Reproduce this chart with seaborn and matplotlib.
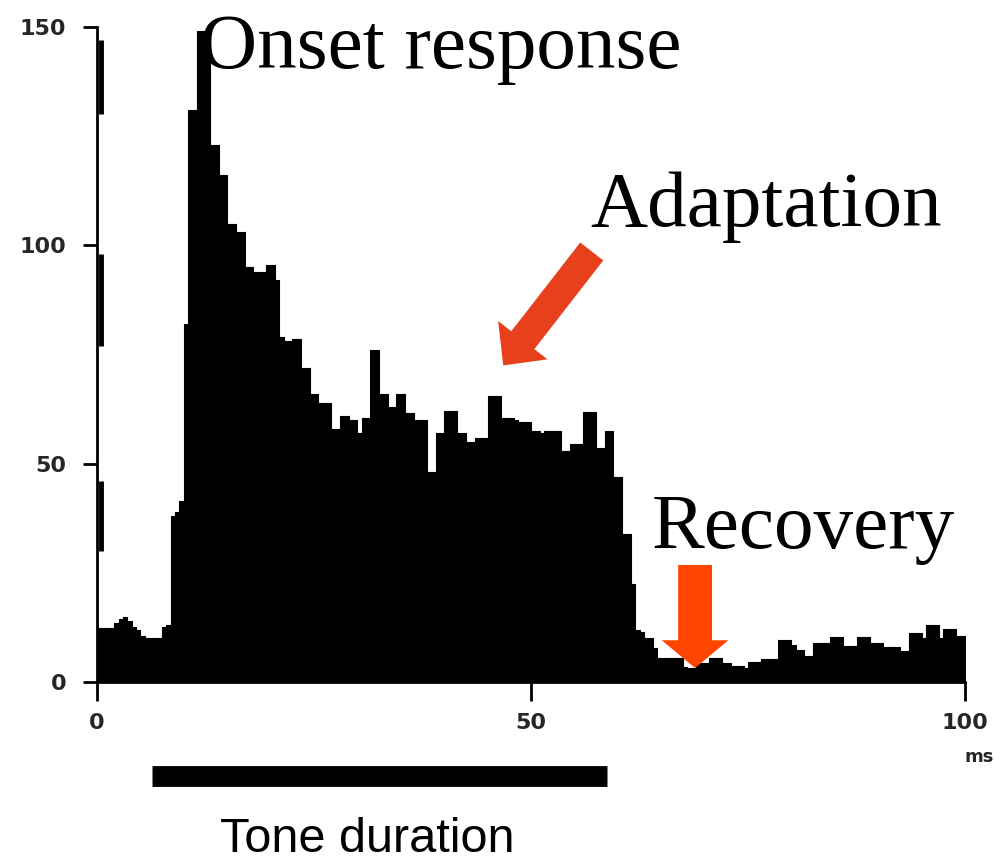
import numpy as np
import matplotlib
matplotlib.use("Agg")
import matplotlib.pyplot as plt
import seaborn as sns

# Peri-stimulus time histogram, 0.5 ms bins from 0 to 100 ms
bin_width_ms = 0.5
spike_counts = [
    12.4, 12.4, 12.4, 12.4, 13.5, 14.5, 15.0, 14.0, 12.5, 12.0,   # 0-5 ms
    10.5, 10.0, 10.0, 10.0, 10.0, 12.5, 13.0, 38.0, 39.0, 41.5,   # 5-10
    82.0, 131.0, 131.0, 149.0, 149.0, 149.0, 123.0, 123.0, 116.0, 116.0,  # 10-15
    105.0, 105.0, 103.0, 103.0, 95.0, 95.0, 94.0, 94.0, 94.0, 95.5,  # 15-20
    95.5, 92.0, 79.0, 78.0, 78.0, 78.5, 78.5, 72.0, 72.0, 66.0,   # 20-25
    66.0, 64.0, 64.0, 64.0, 58.0, 58.0, 61.0, 61.0, 60.0, 60.0,   # 25-30
    57.0, 60.4, 60.4, 76.0, 76.0, 66.0, 66.0, 63.0, 63.0, 66.0,   # 30-35
    66.0, 61.5, 61.5, 60.0, 60.0, 60.0, 48.0, 48.0, 57.0, 57.0,   # 35-40
    62.0, 62.0, 62.0, 57.0, 57.0, 55.0, 55.0, 55.8, 55.8, 55.8,   # 40-45
    65.5, 65.5, 65.5, 60.4, 60.4, 60.4, 60.0, 59.5, 59.5, 59.5,   # 45-50
    57.5, 57.5, 57.0, 57.5, 57.5, 57.5, 57.5, 53.0, 53.0, 54.5,   # 50-55
    54.5, 54.5, 61.8, 61.8, 61.8, 53.5, 53.5, 57.5, 57.5, 47.0,   # 55-60
    47.0, 34.0, 34.0, 22.5, 12.0, 11.4, 10.0, 10.0, 7.8, 5.5,     # 60-65
    5.5, 5.5, 5.5, 5.5, 5.5, 3.5, 3.2, 3.2, 4.3, 4.3,             # 65-70
    4.3, 5.5, 5.5, 5.5, 4.3, 4.3, 3.7, 3.7, 3.7, 3.2,             # 70-75
    4.6, 4.6, 4.6, 5.3, 5.3, 5.3, 5.3, 9.6, 9.6, 9.6,             # 75-80
    8.5, 7.3, 7.3, 6.0, 6.0, 8.9, 8.9, 8.9, 8.9, 10.3,            # 80-85
    10.3, 10.3, 8.3, 8.3, 8.3, 10.3, 10.3, 10.3, 8.9, 8.9,        # 85-90
    8.9, 8.0, 8.0, 8.0, 8.0, 7.2, 7.2, 11.2, 11.2, 11.2,          # 90-95
    10.0, 13.0, 13.0, 13.0, 10.0, 12.2, 12.2, 12.2, 10.6, 10.6,   # 95-100
]
bin_times = np.arange(len(spike_counts)) * bin_width_ms + bin_width_ms / 2

# Tone presentation window (ms)
tone_on_ms = 6.3
tone_off_ms = 58.8

y_ticks = [0, 50, 100, 150]
x_ticks = [0, 50, 100]

W, H = 994, 864
fig = plt.figure(figsize=(W / 100, H / 100), dpi=100)
sns.set_theme(style="white")
plt.rcParams["font.family"] = ["DejaVu Sans"]

ax = fig.add_axes([97 / W, 1 - 682 / H, (965 - 97) / W, (682 - 27) / H])

sns.histplot(
    x=bin_times, weights=spike_counts, binwidth=bin_width_ms, binrange=(0, 100),
    element="step", fill=True, color="black", alpha=1.0, linewidth=0.8,
    edgecolor="black", ax=ax,
)

ax.set_xlim(0, 100)
ax.set_ylim(0, 150)
ax.set_xlabel("")
ax.set_ylabel("")
for s in ["top", "right"]:
    ax.spines[s].set_visible(False)
for s in ["left", "bottom"]:
    ax.spines[s].set_color("black")
    ax.spines[s].set_linewidth(2)

ax.set_yticks(y_ticks)
ax.set_yticklabels([str(v) for v in y_ticks])
ax.set_xticks(x_ticks)
ax.set_xticklabels(["0", "50", "100"])
ax.tick_params(axis="y", left=True, direction="out", length=10, width=2,
               color="black", pad=12, labelsize=16)
ax.tick_params(axis="x", bottom=True, direction="out", length=14, width=2,
               color="black", pad=8, labelsize=16)
for lbl in ax.get_xticklabels() + ax.get_yticklabels():
    lbl.set_fontweight("bold")
ax.text(1.0, -0.115, "ms", transform=ax.transAxes, fontsize=13, fontweight="bold",
        ha="left", va="center", clip_on=False)

# heavier ink along the ordinate
for y0, y1 in [(130, 147), (77, 98), (30, 46)]:
    ax.vlines(0.5, y0, y1, colors="black", linewidth=3.5, clip_on=False)

# tone duration bar below the time axis
ax.hlines(-21.5, tone_on_ms, tone_off_ms, colors="black", linewidth=15, clip_on=False)

# annotation arrows
ax.annotate("", xy=(46.8, 72.5), xytext=(57.0, 98.6),
            arrowprops=dict(arrowstyle="simple,head_length=1.15,head_width=2.25,tail_width=1.05",
                            color="#E8401C", lw=0, mutation_scale=20, shrinkA=0, shrinkB=0),
            annotation_clip=False)
ax.annotate("", xy=(68.9, 3.2), xytext=(68.9, 26.8),
            arrowprops=dict(arrowstyle="simple,head_length=1.0,head_width=2.4,tail_width=1.22",
                            color="#FF4500", lw=0, mutation_scale=20, shrinkA=0, shrinkB=0),
            annotation_clip=False)

serif = ["Liberation Serif", "DejaVu Serif"]
fig.text(200 / W, 1 - 68 / H, "Onset response", family=serif, fontsize=57,
         ha="left", va="baseline", color="black")
fig.text(590 / W, 1 - 226 / H, "Adaptation", family=serif, fontsize=57,
         ha="left", va="baseline", color="black")
fig.text(652 / W, 1 - 548 / H, "Recovery", family=serif, fontsize=57,
         ha="left", va="baseline", color="black")
fig.text(367 / W, 2 / H, "Tone duration", family=["Liberation Sans", "DejaVu Sans"],
         fontsize=35, ha="center", va="bottom", color="black")

fig.savefig("out.png", dpi=100, facecolor="white")
